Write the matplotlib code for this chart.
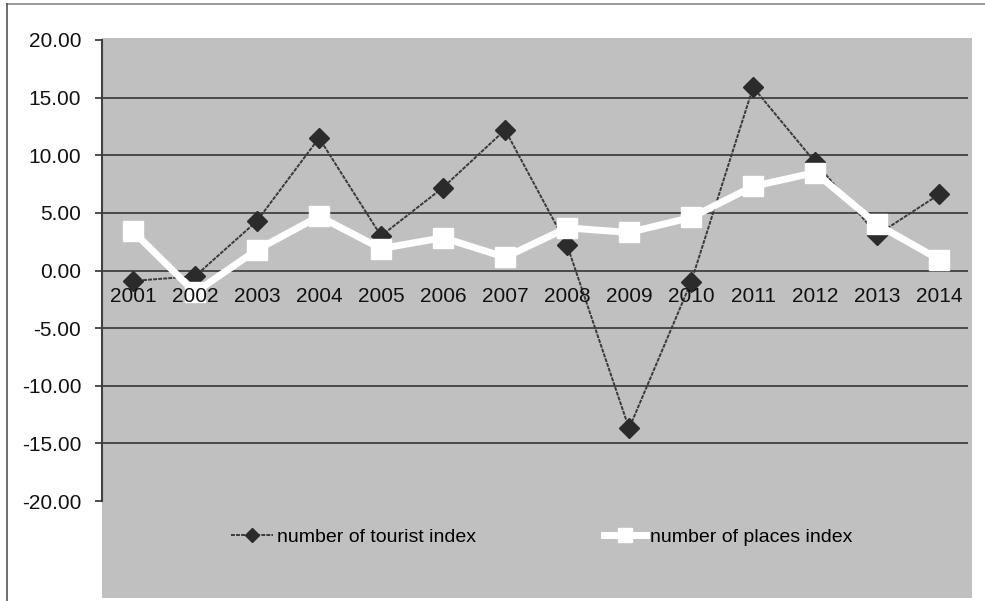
import matplotlib
matplotlib.use("Agg")
import matplotlib.pyplot as plt
from matplotlib.lines import Line2D

plt.rcParams["font.family"] = ["Liberation Sans", "DejaVu Sans"]

years = ["2001", "2002", "2003", "2004", "2005", "2006", "2007",
         "2008", "2009", "2010", "2011", "2012", "2013", "2014"]
tourist_index = [-0.9, -0.5, 4.3, 11.5, 3.0, 7.2, 12.2,
                 2.2, -13.7, -1.0, 15.9, 9.4, 3.1, 6.6]
places_index = [3.4, -1.9, 1.8, 4.7, 1.9, 2.85, 1.15,
                3.7, 3.3, 4.6, 7.3, 8.5, 4.0, 0.95]
y_ticks = [20, 15, 10, 5, 0, -5, -10, -15, -20]

W, H = 985, 601
fig = plt.figure(figsize=(W / 100, H / 100), dpi=100)
fig.patch.set_facecolor("white")

# axes box in pixel terms: x 102..972, y 38..598
ax = fig.add_axes([102 / W, (H - 598) / H, 870 / W, 560 / H])
ax.set_facecolor("#c0c0c0")

x = list(range(len(years)))
ax.set_xlim(-0.5, 13.53)
ax.set_ylim(-28.41, 20.17)

# horizontal grid lines (none at +/-20)
for v in y_ticks:
    if abs(v) < 20:
        ax.hlines(v, -0.5, 13.47, color="#404040", lw=1.3, zorder=1)

ax.plot(x, tourist_index, color="#3a3a3a", lw=1.4, ls=(0, (2, 0.6)),
        marker="D", ms=10.5, mfc="#2b2b2b", mec="#2b2b2b", zorder=3,
        label="number of tourist index")
ax.plot(x, places_index, color="white", lw=5, marker="s", ms=15,
        mfc="white", mec="white", zorder=4, label="number of places index")

# category labels sit just under the zero line
for i, yr in enumerate(years):
    ax.text(i, -2.25, yr, ha="center", va="center", fontsize=15,
            color="#111111", zorder=6)

for s in ["top", "right", "bottom"]:
    ax.spines[s].set_visible(False)
ax.spines["left"].set_bounds(-20, 20)
ax.spines["left"].set_color("#404040")
ax.spines["left"].set_linewidth(1.5)
ax.set_xticks([])
ax.set_yticks(y_ticks)
ax.set_yticklabels([f"{v:.2f}" for v in y_ticks], fontsize=15, color="#111111")
ax.tick_params(axis="y", direction="out", length=5, width=1.3,
               color="#404040", pad=10)

fig.legend(loc="center", bbox_to_anchor=(542 / W, 1 - 537 / H), ncol=2,
           frameon=False, fontsize=14, handlelength=2.16, handletextpad=0.2,
           columnspacing=6.6, markerscale=0.7)

# thin outer frame on the top and left
fig.add_artist(Line2D([7 / W, 1], [1 - 4 / H, 1 - 4 / H], color="#888888", lw=1.2))
fig.add_artist(Line2D([7 / W, 7 / W], [0, 1 - 4 / H], color="#555555", lw=1.2))

fig.savefig("out.png", dpi=100)
